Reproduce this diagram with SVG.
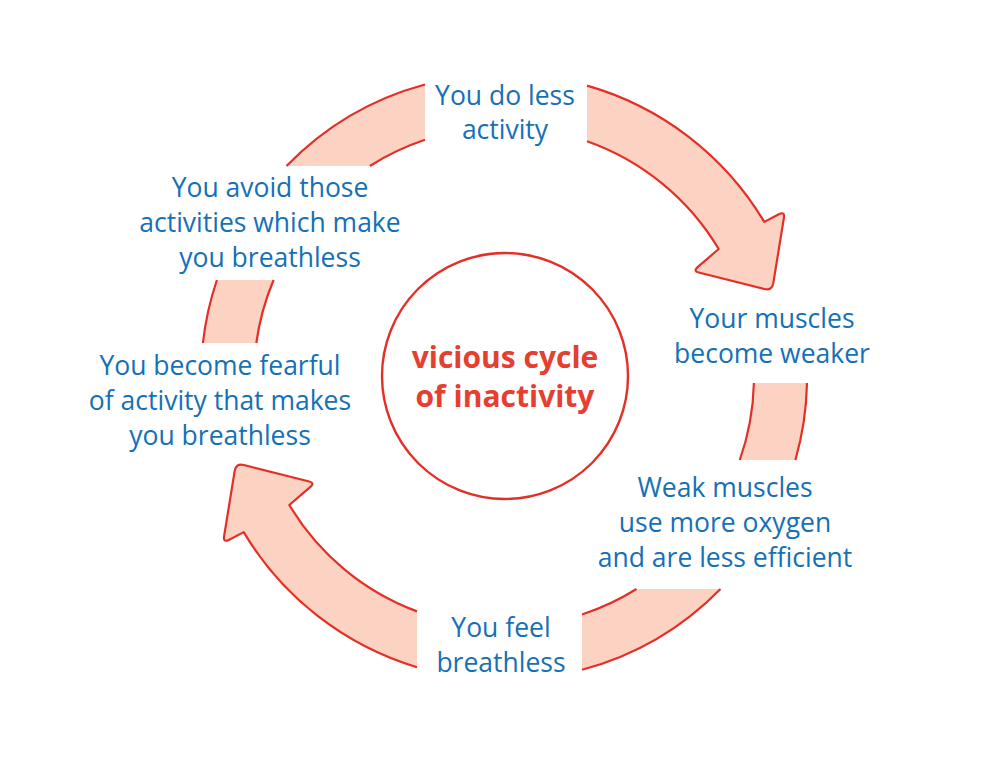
<svg xmlns="http://www.w3.org/2000/svg" width="1000" height="768" viewBox="0 0 1000 768">
<style>
.band{fill:#FCD3C2;stroke:none}
.edge{fill:none;stroke:#E42F27;stroke-width:2.2}
.arrow{fill:#FCD3C2;stroke:#E42F27;stroke-width:2.2;stroke-linejoin:round}
.lbl{font-family:"Open Sans","Noto Sans",sans-serif;font-size:26.5px;fill:#1570B6;text-anchor:middle}
.ctr{font-family:"Open Sans","Noto Sans",sans-serif;font-size:30px;font-weight:bold;fill:#E63E30;text-anchor:middle}
</style>
<rect width="1000" height="768" fill="#ffffff"/>
<g id="connectors">
  <g id="seg-topleft">
    <path class="band" d="M286.5,166 A303,303 0 0,1 425,84.5 L425,139.8 A250,250 0 0,0 369.9,166 Z"/>
    <path class="edge" d="M286.5,166 A303,303 0 0,1 425,84.5 M425,139.8 A250,250 0 0,0 369.9,166"/>
  </g>
  <path id="arrow-topright" class="arrow" d="M587,85.6 A303,303 0 0,1 764.3,221.9 L778.8,214.3 Q785,211 783.9,217.9 L773.3,283.1 Q772,291 764.2,289 L698.8,272.5 Q693,271 697.6,267.1 L718.7,249 A250,250 0 0,0 587,141.2"/>
  <g id="seg-right">
    <path class="band" d="M807,383 A303,303 0 0,1 795.4,460 L739.8,460 A250,250 0 0,0 753.9,383 Z"/>
    <path class="edge" d="M807,383 A303,303 0 0,1 795.4,460 M739.8,460 A250,250 0 0,0 753.9,383"/>
  </g>
  <g id="seg-bottomright">
    <path class="band" d="M720.5,589 A303,303 0 0,1 582,669.8 L582,614.5 A250,250 0 0,0 636.5,589 Z"/>
    <path class="edge" d="M720.5,589 A303,303 0 0,1 582,669.8 M582,614.5 A250,250 0 0,0 636.5,589"/>
  </g>
  <path id="arrow-bottomleft" class="arrow" d="M417,667.2 A303,303 0 0,1 243.7,532.1 L229.2,539.7 Q223,543 224.1,536.1 L234.7,470.9 Q236,463 243.8,465 L309.2,481.5 Q315,483 310.4,486.9 L289.3,505 A250,250 0 0,0 417,611.4"/>
  <g id="seg-left">
    <path class="band" d="M202.9,343 A303,303 0 0,1 216.9,280 L273.6,280 A250,250 0 0,0 256.3,343 Z"/>
    <path class="edge" d="M202.9,343 A303,303 0 0,1 216.9,280 M273.6,280 A250,250 0 0,0 256.3,343"/>
  </g>
</g>
<g id="center">
  <circle cx="505" cy="376" r="123" fill="#ffffff" stroke="#E42F27" stroke-width="2.4"/>
  <text class="ctr" x="505" y="368">vicious cycle</text>
  <text class="ctr" x="505" y="407">of inactivity</text>
</g>
<g id="node-top">
  <text class="lbl" x="505" y="105">You do less</text>
  <text class="lbl" x="505" y="139">activity</text>
</g>
<g id="node-right">
  <text class="lbl" x="772" y="328">Your muscles</text>
  <text class="lbl" x="772" y="363">become weaker</text>
</g>
<g id="node-bottomright">
  <text class="lbl" x="725" y="497">Weak muscles</text>
  <text class="lbl" x="725" y="532">use more oxygen</text>
  <text class="lbl" x="725" y="567">and are less efficient</text>
</g>
<g id="node-bottom">
  <text class="lbl" x="501" y="637">You feel</text>
  <text class="lbl" x="501" y="672">breathless</text>
</g>
<g id="node-left">
  <text class="lbl" x="220" y="375">You become fearful</text>
  <text class="lbl" x="220" y="410">of activity that makes</text>
  <text class="lbl" x="220" y="445">you breathless</text>
</g>
<g id="node-topleft">
  <text class="lbl" x="270" y="197">You avoid those</text>
  <text class="lbl" x="270" y="232">activities which make</text>
  <text class="lbl" x="270" y="267">you breathless</text>
</g>
</svg>
